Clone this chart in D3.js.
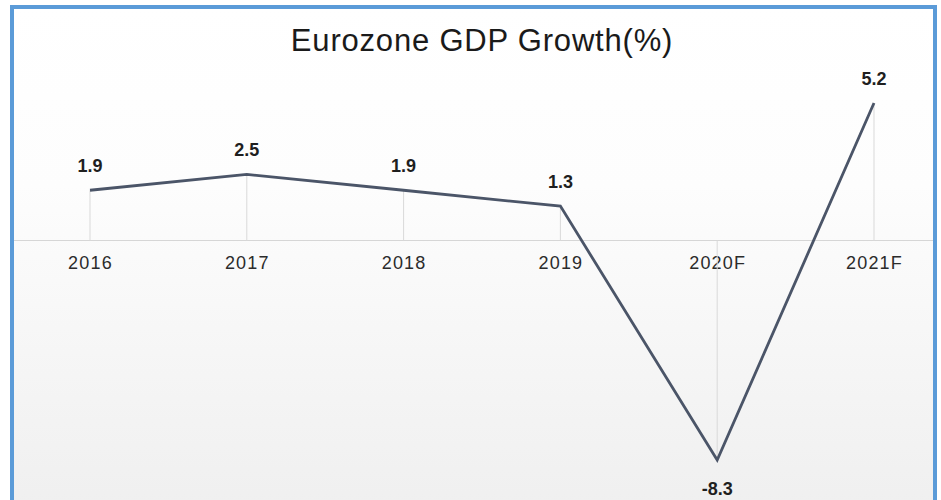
<!DOCTYPE html>
<html>
<head>
<meta charset="utf-8">
<script src="https://cdn.jsdelivr.net/npm/d3@7"></script>
<style>
  html, body { margin: 0; padding: 0; background: #ffffff; }
  svg { display: block; font-family: "Liberation Sans", Arial, sans-serif; }
</style>
</head>
<body>
<svg id="chart" width="941" height="500"></svg>
<script>
// Eurozone real GDP growth, annual %, with forecasts for 2020 and 2021
const years = ["2016", "2017", "2018", "2019", "2020F", "2021F"];
const growth = [1.9, 2.5, 1.9, 1.3, -8.3, 5.2];
const title = "Eurozone GDP Growth(%)";

const W = 941, H = 500;
const svg = d3.select("#chart");

// Panel background: white fading to light grey toward the bottom
const defs = svg.append("defs");
const grad = defs.append("linearGradient")
  .attr("id", "bg").attr("x1", 0).attr("y1", 0).attr("x2", 0).attr("y2", 1);
grad.append("stop").attr("offset", "0%").attr("stop-color", "#ffffff");
grad.append("stop").attr("offset", "35%").attr("stop-color", "#fdfdfd");
grad.append("stop").attr("offset", "100%").attr("stop-color", "#efefef");

svg.append("rect")
  .attr("x", 12).attr("y", 7).attr("width", 923).attr("height", 510)
  .attr("fill", "url(#bg)")
  .attr("stroke", "#5b9bd8").attr("stroke-width", 4);

// Scales
const x = d3.scalePoint().domain(years).range([90, 874]);
const y = d3.scaleLinear().domain([-8.3, 5.2]).range([460, 103]);

// Title
svg.append("text")
  .attr("x", 482).attr("y", 51)
  .attr("text-anchor", "middle")
  .attr("font-size", 31)
  .attr("letter-spacing", 0.8)
  .attr("fill", "#1a1a1a")
  .text(title);

// Zero baseline as the category axis
const axis = d3.axisBottom(x).tickSize(0).tickPadding(0);
const gAxis = svg.append("g").attr("transform", `translate(0,${y(0)})`).call(axis);
gAxis.select(".domain").remove();
gAxis.append("line")
  .attr("x1", 14).attr("x2", 933)
  .attr("stroke", "#d6d6d6").attr("stroke-width", 1.2);
gAxis.selectAll(".tick text")
  .attr("dy", null)
  .attr("y", 28)
  .attr("font-size", 18)
  .attr("letter-spacing", 1.2)
  .attr("font-family", "\"Liberation Sans\", Arial, sans-serif")
  .attr("fill", "#2b2b2b");

// Drop lines from each point to the baseline
svg.append("g").selectAll("line")
  .data(years)
  .join("line")
  .attr("x1", d => x(d)).attr("x2", d => x(d))
  .attr("y1", (d, i) => y(growth[i]))
  .attr("y2", y(0))
  .attr("stroke", "#d9d9d9").attr("stroke-width", 1);

// Growth line
const line = d3.line()
  .x((d, i) => x(years[i]))
  .y(d => y(d));
svg.append("path")
  .datum(growth)
  .attr("d", line)
  .attr("fill", "none")
  .attr("stroke", "#4b5568")
  .attr("stroke-width", 2.8)
  .attr("stroke-linejoin", "miter");

// Value labels
svg.append("g").selectAll("text")
  .data(growth)
  .join("text")
  .attr("x", (d, i) => x(years[i]))
  .attr("y", d => d >= 0 ? y(d) - 18 : y(d) + 35)
  .attr("text-anchor", "middle")
  .attr("font-size", 18)
  .attr("font-weight", "bold")
  .attr("fill", "#1f1f1f")
  .text(d => d.toFixed(1));
</script>
</body>
</html>
